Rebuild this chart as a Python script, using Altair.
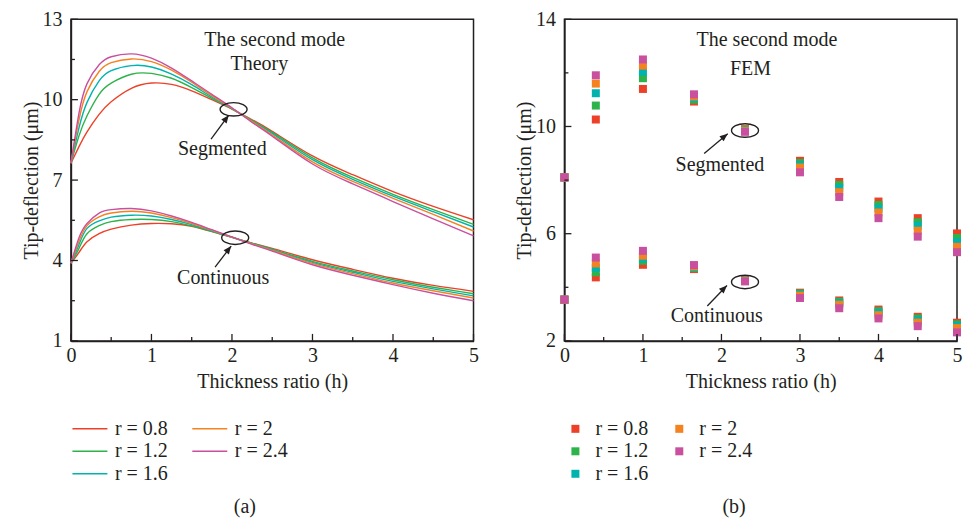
import altair as alt
import pandas as pd

FONT = "Liberation Serif"
INK = "#231F20"

r_labels = ["r = 0.8", "r = 1.2", "r = 1.6", "r = 2", "r = 2.4"]
r_colors = ["#EC4128", "#2EB24A", "#00B3AD", "#F58220", "#C8509E"]

# ---------------- (a) Theory curves ----------------
h_theory = [0, 0.1, 0.2, 0.35, 0.5, 0.75, 1.0, 1.25, 1.5, 1.75, 2.0, 2.25, 2.5, 3.0, 3.5, 4.0, 4.5, 5.0]
seg_theory = {
    "r = 0.8": [7.63, 8.25, 8.8, 9.45, 9.92, 10.42, 10.62, 10.57, 10.33, 10.0, 9.65, 9.25, 8.82, 7.9, 7.2, 6.57, 6.02, 5.52],
    "r = 1.2": [7.63, 8.65, 9.4, 10.2, 10.62, 10.95, 10.98, 10.8, 10.45, 10.05, 9.66, 9.22, 8.78, 7.83, 7.1, 6.47, 5.9, 5.35],
    "r = 1.6": [7.63, 8.95, 9.9, 10.7, 11.08, 11.27, 11.22, 10.95, 10.56, 10.1, 9.67, 9.2, 8.74, 7.76, 7.03, 6.4, 5.82, 5.25],
    "r = 2":   [7.63, 9.25, 10.3, 11.05, 11.38, 11.52, 11.42, 11.1, 10.65, 10.15, 9.68, 9.18, 8.69, 7.68, 6.95, 6.32, 5.72, 5.1],
    "r = 2.4": [7.63, 9.5, 10.6, 11.3, 11.6, 11.71, 11.55, 11.18, 10.7, 10.2, 9.7, 9.15, 8.64, 7.6, 6.86, 6.2, 5.55, 4.92],
}
cont_theory = {
    "r = 0.8": [3.9, 4.3, 4.7, 5.0, 5.17, 5.32, 5.38, 5.37, 5.28, 5.08, 4.86, 4.65, 4.45, 4.03, 3.67, 3.34, 3.07, 2.85],
    "r = 1.2": [3.9, 4.45, 5.0, 5.3, 5.45, 5.53, 5.53, 5.45, 5.29, 5.09, 4.86, 4.64, 4.42, 3.97, 3.61, 3.28, 3.0, 2.76],
    "r = 1.6": [3.9, 4.6, 5.2, 5.48, 5.62, 5.69, 5.66, 5.53, 5.34, 5.11, 4.87, 4.63, 4.4, 3.93, 3.56, 3.22, 2.94, 2.68],
    "r = 2":   [3.9, 4.72, 5.3, 5.63, 5.77, 5.84, 5.77, 5.6, 5.38, 5.13, 4.87, 4.62, 4.38, 3.89, 3.51, 3.16, 2.87, 2.6],
    "r = 2.4": [3.9, 4.85, 5.38, 5.77, 5.9, 5.94, 5.85, 5.66, 5.42, 5.15, 4.88, 4.6, 4.35, 3.84, 3.45, 3.1, 2.78, 2.5],
}

# ---------------- (b) FEM points ----------------
h_fem = [0, 0.4, 1, 1.65, 2.3, 3, 3.5, 4, 4.5, 5]
seg_fem = {
    "r = 0.8": [8.1, 10.26, 11.4, 10.93, 9.9, 8.72, 7.93, 7.2, 6.58, 6.01],
    "r = 1.2": [8.1, 10.78, 11.8, 11.0, 9.88, 8.64, 7.82, 7.07, 6.43, 5.84],
    "r = 1.6": [8.1, 11.24, 12.04, 11.06, 9.86, 8.56, 7.7, 6.94, 6.3, 5.68],
    "r = 2":   [8.1, 11.6, 12.27, 11.12, 9.84, 8.47, 7.55, 6.79, 6.11, 5.51],
    "r = 2.4": [8.1, 11.91, 12.5, 11.2, 9.8, 8.29, 7.37, 6.58, 5.89, 5.31],
}
cont_fem = {
    "r = 0.8": [3.54, 4.37, 4.84, 4.68, 4.26, 3.8, 3.51, 3.17, 2.9, 2.68],
    "r = 1.2": [3.54, 4.56, 4.99, 4.72, 4.25, 3.77, 3.46, 3.11, 2.84, 2.62],
    "r = 1.6": [3.54, 4.73, 5.08, 4.75, 4.25, 3.73, 3.41, 3.05, 2.77, 2.56],
    "r = 2":   [3.54, 4.89, 5.18, 4.78, 4.24, 3.69, 3.35, 2.96, 2.68, 2.48],
    "r = 2.4": [3.54, 5.11, 5.36, 4.83, 4.22, 3.6, 3.22, 2.84, 2.55, 2.32],
}

# annotations (data coordinates)
a_texts = ["The second mode", "Theory", "Segmented", "Continuous"]
a_text_h = [2.53, 2.34, 1.88, 1.89]
a_text_y = [12.24, 11.34, 8.16, 3.34]
a_ell_h = [2.02, 2.04]
a_ell_y = [9.64, 4.85]
a_arr_h = [1.74, 1.79]
a_arr_y = [8.53, 3.75]
a_arr_h2 = [1.96, 1.99]
a_arr_y2 = [9.42, 4.54]
a_arr_angle = [37, 38]

b_texts = ["The second mode", "FEM", "Segmented", "Continuous"]
b_text_h = [2.58, 2.37, 1.98, 1.94]
b_text_y = [13.24, 12.13, 8.56, 2.92]
b_ell_h = [2.3, 2.3]
b_ell_y = [9.85, 4.2]
b_arr_h = [1.78, 1.82]
b_arr_y = [8.99, 3.30]
b_arr_h2 = [2.08, 2.07]
b_arr_y2 = [9.73, 4.07]
b_arr_angle = [51, 45]

x_major = [0, 1, 2, 3, 4, 5]
x_minor = [0.5, 1.5, 2.5, 3.5, 4.5]
ya_major = [1, 4, 7, 10, 13]
ya_minor = [2.5, 5.5, 8.5, 11.5]
yb_major = [2, 6, 10, 14]
yb_minor = [4, 8, 12]

W_A, W_B, H = 403, 393, 322

LINE_SYMBOL = "M -2.5 0 L 2.5 0"


def long_df(hs, groups):
    rows = []
    for branch, d in groups.items():
        for i, lab in enumerate(r_labels):
            for h, v in zip(hs, d[lab]):
                rows.append({"h": h, "y": v, "r": lab, "branch": branch, "k": i})
    return pd.DataFrame(rows)


df_a = long_df(h_theory, {"seg": seg_theory, "cont": cont_theory})
df_b = long_df(h_fem, {"seg": seg_fem, "cont": cont_fem})

ELLIPSE = "M -1 0 A 1 0.5 0 1 1 1 0 A 1 0.5 0 1 1 -1 0 Z"
ARROWHEAD = "M 0 0 L -0.42 1 L 0.42 1 Z"


def x_axis():
    return alt.Axis(values=x_major, format="d", title="Thickness ratio (h)", ticks=False,
                    labelPadding=5, labelFlush=False, labelOverlap=False, grid=False,
                    titlePadding=6)


def y_axis(vals, title_pad):
    return alt.Axis(values=vals, format="d", title="Tip-deflection (μm)", ticks=False,
                    labelPadding=9, labelFlush=False, labelOverlap=False, grid=False,
                    titlePadding=title_pad)


def inner_ticks(xscale, yscale, ymajor, yminor):
    layers = []
    for vals, ln in ((x_major, 7), (x_minor, 4)):
        layers.append(alt.Chart(pd.DataFrame({"h": vals})).mark_rule(color=INK, strokeWidth=1.3).encode(
            x=alt.X("h:Q", scale=xscale), y=alt.value(H), y2=alt.value(H - ln)))
    for vals, ln in ((ymajor, 7), (yminor, 4)):
        layers.append(alt.Chart(pd.DataFrame({"y": vals})).mark_rule(color=INK, strokeWidth=1.3).encode(
            y=alt.Y("y:Q", scale=yscale), x=alt.value(0), x2=alt.value(ln)))
    return layers


def annotations(xs, ys, texts, eh, ey, ah, ay, ah2, ay2, ang, xscale, yscale, tag, tag_h, tag_y):
    t = pd.DataFrame({"h": xs, "y": ys, "t": texts})
    e = pd.DataFrame({"h": eh, "y": ey})
    ar = pd.DataFrame({"h": ah, "y": ay, "h2": ah2, "y2": ay2, "a": ang})
    tg = pd.DataFrame({"h": [tag_h], "y": [tag_y], "t": [tag]})
    X = alt.X("h:Q", scale=xscale)
    Y = alt.Y("y:Q", scale=yscale)
    txt = alt.Chart(t).mark_text(font=FONT, fontSize=20, color=INK).encode(x=X, y=Y, text="t:N")
    ell = alt.Chart(e).mark_point(shape=ELLIPSE, size=729, filled=False, stroke=INK,
                                  strokeWidth=1.4, opacity=1).encode(x=X, y=Y)
    rule = alt.Chart(ar).mark_rule(color=INK, strokeWidth=1.3).encode(x=X, y=Y, x2="h2:Q", y2="y2:Q")
    head = alt.Chart(ar).mark_point(shape=ARROWHEAD, size=256, filled=True, color=INK,
                                    opacity=1).encode(
        x=alt.X("h2:Q", scale=xscale), y=alt.Y("y2:Q", scale=yscale), angle=alt.Angle("a:Q", scale=None))
    tagm = alt.Chart(tg).mark_text(font=FONT, fontSize=20, color=INK).encode(x=X, y=Y, text="t:N")
    return [txt, ell, rule, head, tagm]


xs_a = alt.Scale(domain=[0, 5], nice=False)
ys_a = alt.Scale(domain=[1, 13], nice=False)
xs_b = alt.Scale(domain=[0, 5], nice=False)
ys_b = alt.Scale(domain=[2, 14], nice=False)

color_scale = alt.Scale(domain=r_labels, range=r_colors)

lines = alt.Chart(df_a).mark_line(strokeWidth=1.4, interpolate="natural").encode(
    x=alt.X("h:Q", scale=xs_a, axis=x_axis()),
    y=alt.Y("y:Q", scale=ys_a, axis=y_axis(ya_major, 0)),
    color=alt.Color("r:N", scale=color_scale, legend=alt.Legend(
        title=None, orient="none", legendX=9, legendY=400, columns=2, columnPadding=21,
        rowPadding=2.5, symbolType=LINE_SYMBOL, symbolSize=196, symbolStrokeWidth=1.5,
        symbolFillColor="transparent",
        labelFont=FONT, labelFontSize=20, labelColor=INK, labelOffset=15, padding=0)),
    detail="branch:N",
    order="k:Q",
)

left = alt.layer(
    lines,
    *inner_ticks(xs_a, ys_a, ya_major, ya_minor),
    *annotations(a_text_h, a_text_y, a_texts, a_ell_h, a_ell_y, a_arr_h, a_arr_y,
                 a_arr_h2, a_arr_y2, a_arr_angle, xs_a, ys_a, "(a)", 2.16, -5.2),
).properties(width=W_A, height=H)

pts = alt.Chart(df_b).mark_square(size=64, opacity=1).encode(
    x=alt.X("h:Q", scale=xs_b, axis=x_axis()),
    y=alt.Y("y:Q", scale=ys_b, axis=y_axis(yb_major, 1)),
    color=alt.Color("r:N", scale=color_scale, legend=alt.Legend(
        title=None, orient="none", legendX=1, legendY=400, columns=2, columnPadding=21,
        rowPadding=2.5, symbolType="square", symbolSize=64,
        labelFont=FONT, labelFontSize=20, labelColor=INK, labelOffset=10, padding=0)),
    order="k:Q",
)

right = alt.layer(
    pts,
    *inner_ticks(xs_b, ys_b, yb_major, yb_minor),
    *annotations(b_text_h, b_text_y, b_texts, b_ell_h, b_ell_y, b_arr_h, b_arr_y,
                 b_arr_h2, b_arr_y2, b_arr_angle, xs_b, ys_b, "(b)", 2.16, -4.2),
).properties(width=W_B, height=H)

chart = alt.hconcat(left, right, spacing=34).resolve_scale(
    color="independent").resolve_legend(color="independent").properties(
    padding={"left": 13, "top": 0, "right": 0, "bottom": 0}
).configure(font=FONT).configure_view(
    stroke=INK, strokeWidth=1.5
).configure_axis(
    domainColor=INK, domainWidth=1.5,
    labelFont=FONT, labelFontSize=20, labelColor=INK,
    titleFont=FONT, titleFontSize=20, titleFontWeight="normal", titleColor=INK,
)

chart.save("out.html", embed_options={"renderer": "svg", "actions": False})
